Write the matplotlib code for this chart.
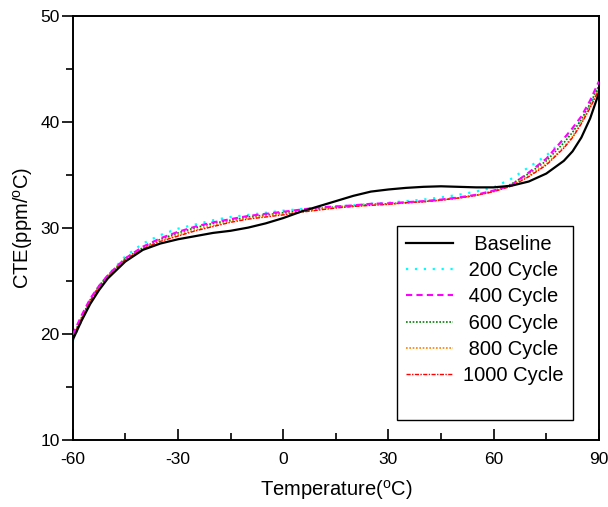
import matplotlib
matplotlib.use("Agg")
import matplotlib.pyplot as plt
from matplotlib.ticker import MultipleLocator
from matplotlib.lines import Line2D

plt.rcParams['font.family'] = ['Liberation Sans', 'DejaVu Sans']
plt.rcParams['mathtext.fontset'] = 'custom'
plt.rcParams['mathtext.rm'] = 'Liberation Sans'
plt.rcParams['mathtext.it'] = 'Liberation Sans'
plt.rcParams['axes.unicode_minus'] = False

temperature = [-60, -57.5, -55, -52.5, -50, -45, -40, -35, -30, -25, -20, -15, -10,
               -5, 0, 5, 10, 15, 20, 25, 30, 35, 40, 45, 50, 55, 60, 65, 70, 75,
               80, 82.5, 85, 87.5, 90]

baseline = [19.4, 21.2, 22.8, 24.1, 25.2, 26.8, 27.9, 28.5, 28.9, 29.2, 29.5, 29.7, 30.0,
            30.4, 30.9, 31.5, 32.0, 32.5, 33.0, 33.4, 33.6, 33.75, 33.85, 33.9,
            33.85, 33.8, 33.8, 33.95, 34.35, 35.1,
            36.3, 37.2, 38.5, 40.3, 42.7]
cycle200 = [19.3, 21.2, 23.0, 24.4, 25.5, 27.3, 28.5, 29.3, 29.9, 30.3, 30.7, 31.0, 31.2,
            31.4, 31.6, 31.75, 31.9, 32.0, 32.1, 32.25, 32.35, 32.5, 32.65, 32.85,
            33.1, 33.4, 33.8, 34.6, 35.7, 36.8,
            38.3, 39.2, 40.1, 41.5, 43.4]
cycle400 = [19.9, 21.7, 23.3, 24.5, 25.5, 27.1, 28.2, 29.0, 29.6, 30.1, 30.5, 30.8, 31.1,
            31.3, 31.5, 31.7, 31.9, 32.0, 32.1, 32.25, 32.3, 32.4, 32.5, 32.65,
            32.85, 33.1, 33.5, 34.0, 35.2, 36.5,
            38.4, 39.4, 40.5, 42.0, 43.8]
cycle600 = [19.7, 21.5, 23.2, 24.5, 25.5, 27.1, 28.1, 28.9, 29.5, 30.0, 30.4, 30.7, 31.0,
            31.2, 31.4, 31.6, 31.8, 31.95, 32.05, 32.2, 32.25, 32.35, 32.45, 32.6,
            32.8, 33.05, 33.45, 34.1, 35.1, 36.3,
            38.0, 39.0, 40.2, 41.7, 43.4]
cycle800 = [19.6, 21.4, 23.1, 24.4, 25.4, 27.0, 28.0, 28.8, 29.3, 29.8, 30.2, 30.6, 30.9,
            31.1, 31.3, 31.5, 31.7, 31.9, 32.0, 32.15, 32.2, 32.35, 32.45, 32.6,
            32.8, 33.05, 33.4, 33.95, 34.9, 36.0,
            37.6, 38.6, 39.9, 41.4, 43.1]
cycle1000 = [19.6, 21.4, 23.1, 24.4, 25.4, 27.0, 28.0, 28.7, 29.2, 29.7, 30.1, 30.5, 30.8,
             31.0, 31.2, 31.45, 31.65, 31.85, 32.0, 32.1, 32.2, 32.35, 32.45, 32.6,
             32.8, 33.05, 33.4, 33.9, 34.8, 35.9,
             37.5, 38.5, 39.8, 41.3, 43.0]

labels = ['Baseline', '200 Cycle', '400 Cycle', '600 Cycle', '800 Cycle', '1000 Cycle']
# leading spaces mimic the centred legend text of the original
legend_labels = ['  Baseline', ' 200 Cycle', ' 400 Cycle', ' 600 Cycle', ' 800 Cycle', '1000 Cycle']
xticks = [-60, -30, 0, 30, 60, 90]
yticks = [10, 20, 30, 40, 50]

fig = plt.figure(figsize=(6.08, 5.07), dpi=100)
ax = fig.add_axes([0.1196, 0.1331, 0.8654, 0.8359])

h0, = ax.plot(temperature, baseline, color='black', lw=1.6, ls='-', label=labels[0], zorder=5)
h1, = ax.plot(temperature, cycle200, color='#00FFFF', lw=1.6, ls=(0, (1, 3)), label=labels[1])
h2, = ax.plot(temperature, cycle400, color='#FF00FF', lw=1.5, ls=(0, (3, 2)), label=labels[2], zorder=4)
h3, = ax.plot(temperature, cycle600, color='#008000', lw=1.2, ls=(0, (1, 1)), label=labels[3])
h4, = ax.plot(temperature, cycle800, color='#FF8000', lw=1.2, ls=(0, (1, 1)), label=labels[4])
h5, = ax.plot(temperature, cycle1000, color='#FF0000', lw=1.0, ls=(0, (3, 1, 1, 1)), label=labels[5])

ax.set_xlim(-60, 90)
ax.set_ylim(10, 50)
ax.set_xticks(xticks)
ax.set_yticks(yticks)
ax.xaxis.set_minor_locator(MultipleLocator(15))
ax.yaxis.set_minor_locator(MultipleLocator(5))
ax.tick_params(axis='x', which='both', direction='in', labelsize=12.5, pad=9)
ax.tick_params(axis='y', which='both', direction='out', labelsize=12.5, pad=1.5)
ax.tick_params(which='major', length=8, width=1.2)
ax.tick_params(which='minor', length=5, width=1.2)
for s in ax.spines.values():
    s.set_linewidth(1.4)

ax.set_xlabel(r'Temperature($^{\mathrm{o}}$C)', fontsize=14.5, labelpad=8)
ax.set_ylabel(r'CTE(ppm/$^{\mathrm{o}}$C)', fontsize=14.5, labelpad=4)

blank = Line2D([], [], color='none')
handles = [h0, h1, h2, h3, h4, h5, blank]
leg = ax.legend(handles, legend_labels + [' '], loc='lower right',
                bbox_to_anchor=(0.95, 0.045), fontsize=14.5,
                frameon=True, fancybox=False, edgecolor='black', framealpha=1,
                handlelength=2.3, handletextpad=0.5, labelspacing=0.36,
                borderpad=0.45, borderaxespad=0)
leg.get_frame().set_linewidth(1.0)

fig.savefig('out.png', dpi=100)
